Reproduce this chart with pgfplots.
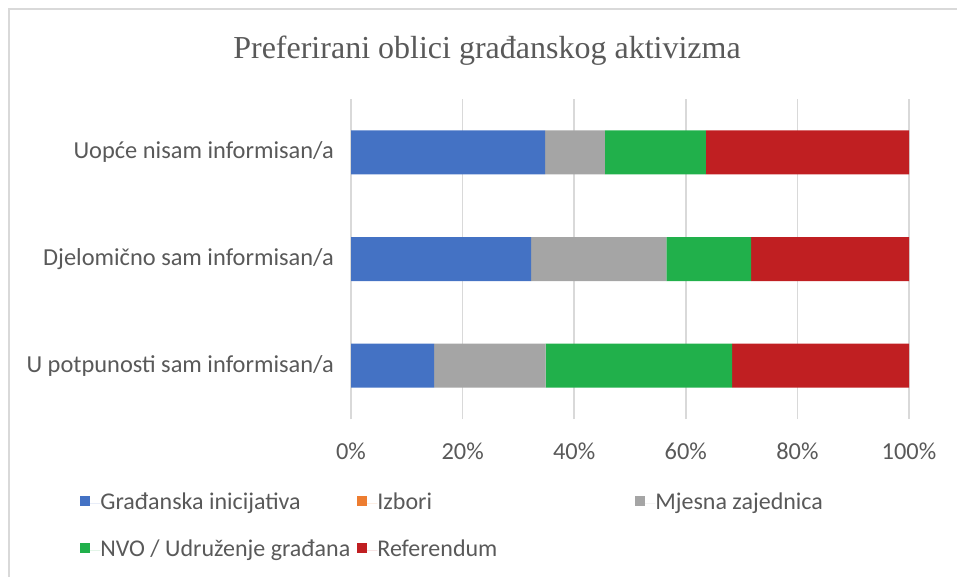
\documentclass[border=0pt]{standalone}
\usepackage{pgfplots}
\pgfplotsset{compat=1.18}
\usepackage{fontspec}
\setmainfont{Carlito}
\newfontfamily\titlefont{Liberation Serif}
\definecolor{cblue}{HTML}{4472C4}
\definecolor{corange}{HTML}{ED7D31}
\definecolor{cgray}{HTML}{A5A5A5}
\definecolor{cgreen}{HTML}{21B04B}
\definecolor{cred}{HTML}{C01F22}
\definecolor{ctext}{HTML}{595959}
\definecolor{cgrid}{HTML}{D9D9D9}
\begin{document}
\begin{tikzpicture}[x=1pt,y=1pt]
\useasboundingbox (0,0) rectangle (478.5,-288.5);
\draw[cgrid, line width=0.8pt] (4.5,-288.5) -- (4.5,-4.5) -- (478.5,-4.5);
\node[font=\titlefont\fontsize{16}{19}\selectfont, text=ctext] at (243.5,-25.5) {Preferirani oblici građanskog aktivizma};
\begin{axis}[
  at={(175.5pt,-209.5pt)}, anchor=south west,
  scale only axis, width=279pt, height=160pt,
  xbar stacked, bar width=22pt,
  xmin=0, xmax=100,
  ymin=-0.5, ymax=2.5,
  ytick={0,1,2},
  yticklabels={U potpunosti sam informisan/a, Djelomično sam informisan/a, Uopće nisam informisan/a},
  xtick={0,20,40,60,80,100},
  xticklabels={0\%,20\%,40\%,60\%,80\%,100\%},
  axis line style={draw=none},
  major tick length=0pt,
  xmajorgrids, grid style={cgrid, line width=0.8pt},
  ymajorgrids=false,
  tick label style={font=\fontsize{12.2}{14}\selectfont, text=ctext},
  xticklabel style={yshift=-8.5pt},
  yticklabel style={xshift=-5pt},
  /pgf/number format/assume math mode=true,
  legend style={at={(-0.4857,-0.23)}, anchor=north west, draw=none, fill=none,
    font=\fontsize{12}{14}\selectfont, text=ctext,
    inner sep=0pt, column sep=0pt, row sep=13pt,
    nodes={inner sep=0pt, text height=8pt, text depth=2.5pt}},
  legend columns=3,
  legend cell align=left,
  legend image code/.code={\fill[#1] (0pt,-1pt) rectangle (5pt,4pt); \path (0pt,0pt) -- (10pt,0pt);},
]
\addplot[fill=cblue, draw=none] coordinates {(14.9,0) (32.3,1) (34.8,2)};
\addlegendentry{\makebox[128.5pt][l]{Građanska inicijativa}}
\addplot[fill=corange, draw=none] coordinates {(0,0) (0,1) (0,2)};
\addlegendentry{\makebox[129pt][l]{Izbori}}
\addplot[fill=cgray, draw=none] coordinates {(20.0,0) (24.2,1) (10.7,2)};
\addlegendentry{Mjesna zajednica}
\addplot[fill=cgreen, draw=none] coordinates {(33.4,0) (15.2,1) (18.1,2)};
\addlegendentry{\makebox[128.5pt][l]{NVO / Udruženje građana}}
\addplot[fill=cred, draw=none] coordinates {(31.7,0) (28.3,1) (36.4,2)};
\addlegendentry{Referendum}
\end{axis}
\end{tikzpicture}
\end{document}
